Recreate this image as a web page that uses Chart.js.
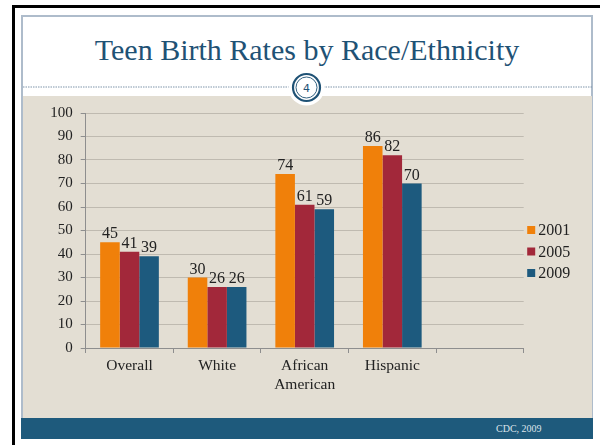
<!DOCTYPE html>
<html>
<head>
<meta charset="utf-8">
<script src="https://cdn.jsdelivr.net/npm/chart.js@4.4.1/dist/chart.umd.min.js"></script>
<style>
  html, body { margin: 0; padding: 0; background: #ffffff; }
  body { width: 600px; height: 445px; position: relative; overflow: hidden; font-family: "Liberation Serif", serif; }
  #frameTop { position: absolute; left: 12px; top: 5px; width: 588px; height: 3px; background: #000; }
  #frameLeft { position: absolute; left: 12px; top: 5px; width: 3px; height: 440px; background: #000; }
  #slide { position: absolute; left: 21px; top: 15px; width: 572px; height: 424px; background: #fff; border: 2px solid #AEBCCB; box-sizing: border-box; }
  #beige { position: absolute; left: 23px; top: 96px; width: 569px; height: 322px; background: #E3DED3; }
  #band { position: absolute; left: 21px; top: 418px; width: 572px; height: 21px; background: #1E5A7C; }
  #credit { position: absolute; left: 496px; top: 418px; height: 21px; line-height: 21px; font-size: 10px; color: #DCE3EA; font-family: "Liberation Serif", serif; }
  #title { position: absolute; left: 21px; width: 572px; top: 35px; text-align: center; font-size: 30px; line-height: 30px; color: #1F5275; font-family: "Liberation Serif", serif; white-space: nowrap; }
  #deco { position: absolute; left: 0; top: 0; }
  #chartWrap { position: absolute; left: 23px; top: 96px; width: 569px; height: 322px; }
</style>
</head>
<body>
<div id="frameTop"></div>
<div id="frameLeft"></div>
<div id="slide"></div>
<div id="beige"></div>
<div id="band"></div>
<div id="credit">CDC, 2009</div>
<div id="title">Teen Birth Rates by Race/Ethnicity</div>
<svg id="deco" width="600" height="445">
  <line x1="23" y1="87" x2="592" y2="87" stroke="#7F95AA" stroke-width="1" stroke-dasharray="1.5,1"/>
  <circle cx="306.5" cy="87.5" r="18" fill="#ffffff"/>
  <circle cx="306.5" cy="87.5" r="13.5" fill="#ffffff" stroke="#1F5275" stroke-width="2.2"/>
  <circle cx="306.5" cy="87.5" r="10.5" fill="none" stroke="#1F5275" stroke-width="0.9"/>
  <text x="306.5" y="91.5" text-anchor="middle" font-family="DejaVu Sans, sans-serif" font-size="11" fill="#1F5275">4</text>
</svg>
<div id="chartWrap"><canvas id="c" width="569" height="322"></canvas></div>
<script>
const categories = ['Overall', 'White', ['African', 'American'], 'Hispanic', ''];
const years = ['2001', '2005', '2009'];
const rates2001 = [45, 30, 74, 86, null];
const rates2005 = [41, 26, 61, 82, null];
const rates2009 = [39, 26, 59, 70, null];
const yTickValues = [0, 10, 20, 30, 40, 50, 60, 70, 80, 90, 100];
const seriesColors = ['#F0800A', '#A2283A', '#1D5A7E'];

const FONT = '"Liberation Serif", serif';

const valueLabels = {
  id: 'valueLabels',
  afterDatasetsDraw(chart) {
    const ctx = chart.ctx;
    ctx.save();
    ctx.font = '16px ' + FONT;
    ctx.fillStyle = '#222222';
    ctx.textAlign = 'center';
    ctx.textBaseline = 'alphabetic';
    chart.data.datasets.forEach((ds, i) => {
      const meta = chart.getDatasetMeta(i);
      meta.data.forEach((bar, j) => {
        const v = ds.data[j];
        if (v === null || v === undefined) return;
        ctx.fillText(String(v), bar.x, bar.y - 4);
      });
    });
    ctx.restore();
  }
};

const sideLegend = {
  id: 'sideLegend',
  afterDraw(chart) {
    const ctx = chart.ctx;
    const x0 = chart.chartArea.right + 3.5;
    const y0 = 134;
    const step = 21.5;
    ctx.save();
    ctx.font = '16px ' + FONT;
    ctx.textBaseline = 'middle';
    ctx.textAlign = 'left';
    chart.data.datasets.forEach((ds, i) => {
      const cy = y0 + i * step;
      ctx.fillStyle = ds.backgroundColor;
      ctx.fillRect(x0, cy - 4, 8, 8);
      ctx.fillStyle = '#222222';
      ctx.fillText(ds.label, x0 + 11, cy + 1);
    });
    ctx.restore();
  }
};

new Chart(document.getElementById('c'), {
  type: 'bar',
  data: {
    labels: categories,
    datasets: [
      { label: years[0], data: rates2001, backgroundColor: seriesColors[0] },
      { label: years[1], data: rates2005, backgroundColor: seriesColors[1] },
      { label: years[2], data: rates2009, backgroundColor: seriesColors[2] }
    ]
  },
  options: {
    responsive: false,
    animation: false,
    layout: { padding: { top: 16, right: 68.3, bottom: 0, left: 0 } },
    datasets: { bar: { categoryPercentage: 0.67, barPercentage: 1.0, borderWidth: 0 } },
    plugins: { legend: { display: false }, tooltip: { enabled: false } },
    scales: {
      x: {
        afterFit(scale) { scale.height = 70; },
        grid: { display: true, drawOnChartArea: false, drawTicks: true, tickLength: 5, tickColor: '#8E8E8E', offset: true },
        border: { display: true, color: '#8E8E8E', width: 1 },
        ticks: { color: '#222222', font: { family: FONT, size: 15.5 }, padding: 4, maxRotation: 0, autoSkip: false }
      },
      y: {
        min: 0, max: 100,
        afterFit(scale) { scale.width = 62.7; },
        afterBuildTicks(scale) { scale.ticks = yTickValues.map(v => ({ value: v })); },
        grid: { color: '#BFBAB0', lineWidth: 1, drawTicks: true, tickLength: 5, tickColor: '#8E8E8E' },
        border: { display: true, color: '#8E8E8E', width: 1 },
        ticks: { color: '#222222', font: { family: FONT, size: 15 }, padding: 8 }
      }
    }
  },
  plugins: [valueLabels, sideLegend]
});
</script>
</body>
</html>
